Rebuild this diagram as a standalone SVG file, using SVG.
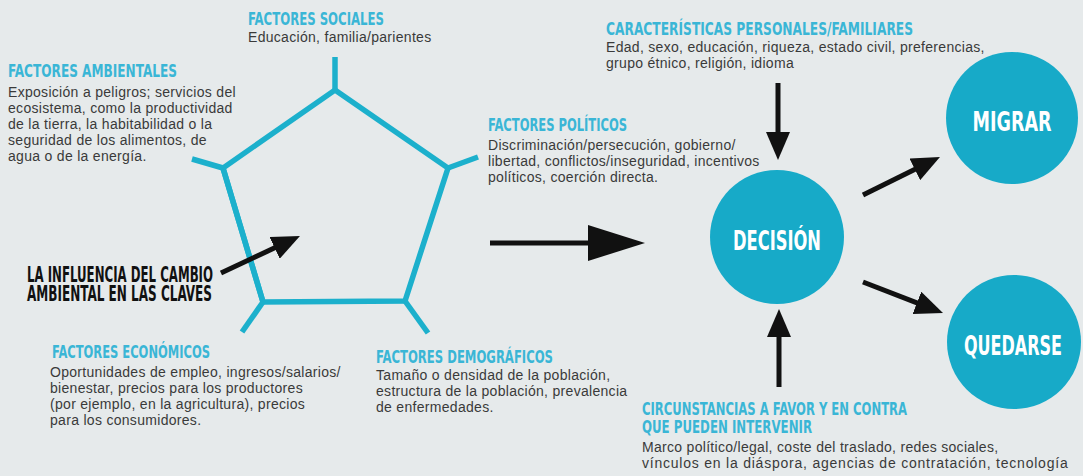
<svg xmlns="http://www.w3.org/2000/svg" width="1083" height="476" viewBox="0 0 1083 476">
<style>
.h{font-family:"DejaVu Sans Condensed","DejaVu Sans",sans-serif;font-weight:bold;font-stretch:condensed;font-size:18px;fill:#3ab6d6}
.hk{font-family:"DejaVu Sans Condensed","DejaVu Sans",sans-serif;font-weight:bold;font-stretch:condensed;font-size:22px;fill:#111}
.b{font-family:"Liberation Sans",Arial,sans-serif;font-size:14px;letter-spacing:0.3px;fill:#3a3a3a}
.c{font-family:"DejaVu Sans Condensed","DejaVu Sans",sans-serif;font-weight:bold;font-stretch:condensed;font-size:27px;fill:#fff;text-anchor:middle}
.pent{fill:none;stroke:#1cb0cc;stroke-width:5.5;stroke-linejoin:miter}
.ar{stroke:#111;stroke-width:5;fill:none}
.circ{fill:#17aac8}
</style>
<defs>
<marker id="ah" markerUnits="userSpaceOnUse" markerWidth="28" markerHeight="24" refX="16" refY="12" orient="auto" viewBox="0 0 28 24">
<path d="M0,0 L28,12 L0,24 z" fill="#111"/>
</marker>
</defs>
<rect width="1083" height="476" fill="#e6eaeb"/>

<g id="pentagon">
<polygon class="pent" points="335,90 448,168 405,301 263,302 223,168"/>
<line class="pent" x1="223" y1="168" x2="263" y2="302" stroke-width="8"/>
<line class="pent" x1="335" y1="90" x2="335" y2="57"/>
<line class="pent" x1="223" y1="168" x2="192" y2="159"/>
<line class="pent" x1="448" y1="168" x2="478" y2="157"/>
<line class="pent" x1="405" y1="301" x2="428" y2="333"/>
<line class="pent" x1="263" y1="302" x2="242" y2="332"/>
</g>

<g id="social">
<text class="h" x="248" y="25" textLength="136" lengthAdjust="spacingAndGlyphs">FACTORES SOCIALES</text>
<text class="b" x="248" y="42">Educación, familia/parientes</text>
</g>

<g id="ambiental">
<text class="h" x="8" y="77" textLength="169" lengthAdjust="spacingAndGlyphs">FACTORES AMBIENTALES</text>
<text class="b" x="8" y="97">Exposición a peligros; servicios del</text>
<text class="b" x="8" y="113">ecosistema, como la productividad</text>
<text class="b" x="8" y="129">de la tierra, la habitabilidad o la</text>
<text class="b" x="8" y="145">seguridad de los alimentos, de</text>
<text class="b" x="8" y="161">agua o de la energía.</text>
</g>

<g id="politico">
<text class="h" x="488" y="131" textLength="139" lengthAdjust="spacingAndGlyphs">FACTORES POLÍTICOS</text>
<text class="b" x="488" y="150">Discriminación/persecución, gobierno/</text>
<text class="b" x="488" y="166">libertad, conflictos/inseguridad, incentivos</text>
<text class="b" x="488" y="182">políticos, coerción directa.</text>
</g>

<g id="influencia">
<text class="hk" x="27" y="282" textLength="186" lengthAdjust="spacingAndGlyphs">LA INFLUENCIA DEL CAMBIO</text>
<text class="hk" x="27" y="301" textLength="185" lengthAdjust="spacingAndGlyphs">AMBIENTAL EN LAS CLAVES</text>
</g>

<g id="economico">
<text class="h" x="52" y="358" textLength="158" lengthAdjust="spacingAndGlyphs">FACTORES ECONÓMICOS</text>
<text class="b" x="50" y="377">Oportunidades de empleo, ingresos/salarios/</text>
<text class="b" x="50" y="393">bienestar, precios para los productores</text>
<text class="b" x="50" y="409">(por ejemplo, en la agricultura), precios</text>
<text class="b" x="50" y="425">para los consumidores.</text>
</g>

<g id="demografico">
<text class="h" x="376" y="363" textLength="177" lengthAdjust="spacingAndGlyphs">FACTORES DEMOGRÁFICOS</text>
<text class="b" x="376" y="380">Tamaño o densidad de la población,</text>
<text class="b" x="376" y="396">estructura de la población, prevalencia</text>
<text class="b" x="376" y="412">de enfermedades.</text>
</g>

<g id="caracteristicas">
<text class="h" x="606" y="35" textLength="307" lengthAdjust="spacingAndGlyphs">CARACTERÍSTICAS PERSONALES/FAMILIARES</text>
<text class="b" x="606" y="52">Edad, sexo, educación, riqueza, estado civil, preferencias,</text>
<text class="b" x="606" y="68">grupo étnico, religión, idioma</text>
</g>

<g id="circunstancias">
<text class="h" x="642" y="415" textLength="265" lengthAdjust="spacingAndGlyphs">CIRCUNSTANCIAS A FAVOR Y EN CONTRA</text>
<text class="h" x="642" y="433" textLength="170" lengthAdjust="spacingAndGlyphs">QUE PUEDEN INTERVENIR</text>
<text class="b" x="642" y="452">Marco político/legal, coste del traslado, redes sociales,</text>
<text class="b" x="642" y="468" textLength="426">vínculos en la diáspora, agencias de contratación, tecnología</text>
</g>

<g id="decision">
<circle class="circ" cx="777" cy="237" r="67"/>
<text class="c" x="777" y="250" textLength="88" lengthAdjust="spacingAndGlyphs">DECISIÓN</text>
</g>

<g id="migrar">
<circle class="circ" cx="1012" cy="118" r="66"/>
<text class="c" x="1012" y="131" textLength="79" lengthAdjust="spacingAndGlyphs">MIGRAR</text>
</g>

<g id="quedarse">
<circle class="circ" cx="1014" cy="342" r="67"/>
<text class="c" x="1013" y="355" textLength="98" lengthAdjust="spacingAndGlyphs">QUEDARSE</text>
</g>

<g id="connectors">
<line class="ar" x1="221" y1="273" x2="289.1" y2="241.1" marker-end="url(#ah)"/>
<line class="ar" x1="490" y1="243" x2="592" y2="243" stroke-width="8"/>
<polygon points="588,225 645,243 588,261" fill="#111"/>
<line class="ar" x1="778" y1="83" x2="778" y2="148" marker-end="url(#ah)"/>
<line class="ar" x1="779" y1="387" x2="779" y2="321" marker-end="url(#ah)"/>
<line class="ar" x1="863" y1="195" x2="929.2" y2="162.3" marker-end="url(#ah)"/>
<line class="ar" x1="863" y1="282" x2="931.8" y2="308.7" marker-end="url(#ah)"/>
</g>
</svg>
